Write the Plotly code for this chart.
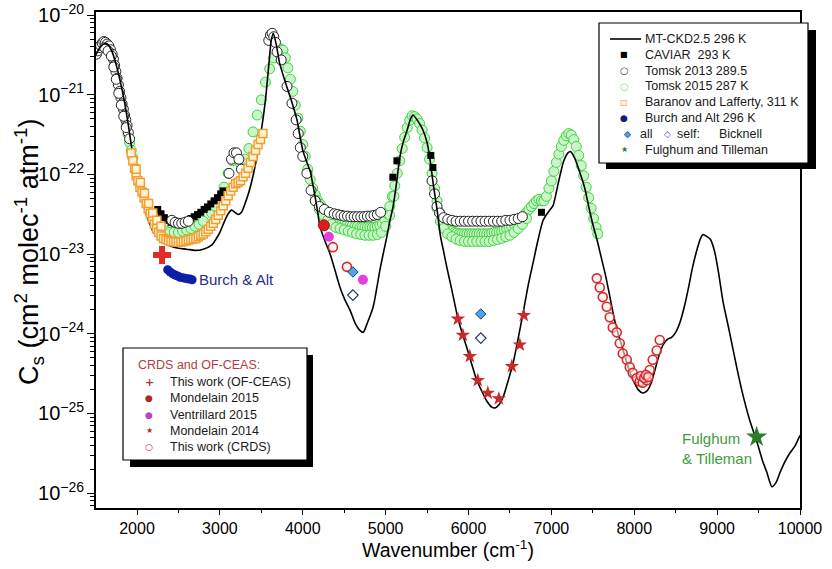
import plotly.graph_objects as go

# ---------------- data (wavenumber cm-1, Cs in cm2 molec-1 atm-1) ----------------
mtckd_wn = [1505,1550,1600,1650,1700,1750,1800,1850,1900,1950,2000,2050,2100,2150,2200,2300,2400,2500,2600,2700,
            2800,2900,2950,3000,3050,3100,3140,3180,3220,3260,3300,3350,3400,3450,3500,3550,3590,3620,3645,3680,
            3720,3800,3870,3930,4000,4050,4090,4130,4170,4210,4270,4330,4390,4450,4510,4570,4630,4690,4730,4780,
            4850,4930,4970,5015,5050,5090,5130,5170,5210,5260,5300,5330,5400,5450,5500,5530,5580,5620,5660,5700,
            5740,5800,5860,5920,5980,6040,6100,6160,6220,6280,6320,6370,6420,6480,6540,6600,6660,6720,6780,6840,
            6900,6960,7020,7060,7100,7150,7200,7230,7280,7330,7400,7450,7500,7550,7600,7650,7700,7750,7800,7850,
            7900,7950,8000,8050,8100,8150,8200,8250,8300,8350,8400,8450,8500,8550,8600,8650,8700,8750,8800,8830,
            8870,8920,8970,9020,9070,9150,9236,9300,9393,9480,9550,9600,9660,9710,9760,9820,9880,9940,10000]
mtckd_cs = [3.17e-21,3.89e-21,4.32e-21,4.21e-21,3.45e-21,2.34e-21,1.44e-21,8.0e-22,3.86e-22,1.73e-22,8.9e-23,5.3e-23,3.49e-23,2.43e-23,1.87e-23,1.44e-23,1.26e-23,1.18e-23,1.15e-23,1.11e-23,
            1.15e-23,1.29e-23,1.52e-23,1.87e-23,2.5e-23,3.2e-23,3.56e-23,3.34e-23,3.13e-23,3.34e-23,4.2e-23,6.0e-23,9.6e-23,1.73e-22,3.54e-22,8.6e-22,2.34e-21,4.8e-21,5.9e-21,4.27e-21,
            2.51e-21,1.33e-21,8.0e-22,4.83e-22,2.0e-22,1.41e-22,1.09e-22,6.7e-23,3.9e-23,2.16e-23,1.44e-23,1.0e-23,6.2e-24,3.8e-24,2.64e-24,1.98e-24,1.37e-24,1.1e-24,1.04e-24,1.37e-24,
            2.18e-24,6.25e-24,1.0e-23,1.65e-23,2.58e-23,3.95e-23,7.6e-23,1.61e-22,2.5e-22,3.6e-22,4.95e-22,5.55e-22,4.47e-22,3.6e-22,2.5e-22,1.68e-22,6.9e-23,3.63e-23,1.72e-23,1.07e-23,
            6.7e-24,3.5e-24,1.77e-24,1.04e-24,6.65e-25,4.1e-25,2.6e-25,1.9e-25,1.43e-25,1.2e-25,1.17e-25,1.29e-25,1.62e-25,2.6e-25,4.35e-25,8.8e-25,1.85e-24,4.05e-24,7.85e-24,1.52e-23,
            2.65e-23,3.34e-23,4.05e-23,6.0e-23,9.3e-23,1.48e-22,1.86e-22,1.93e-22,1.61e-22,1.16e-22,6.9e-23,3.95e-23,2.36e-23,1.52e-23,9.2e-24,5.6e-24,3.13e-24,1.7e-24,1.04e-24,7.1e-25,
            4.7e-25,3.22e-25,2.43e-25,1.97e-25,1.8e-25,1.9e-25,2.34e-25,3.5e-25,5.4e-25,7.3e-25,8.5e-25,9.0e-25,1.04e-24,1.37e-24,2.1e-24,3.58e-24,6.55e-24,1.07e-23,1.57e-23,1.76e-23,
            1.68e-23,1.52e-23,1.07e-23,5.6e-24,2.56e-24,1.04e-24,3.8e-25,1.9e-25,8.2e-26,4.4e-26,2.5e-26,1.82e-26,1.2e-26,1.35e-26,1.82e-26,2.5e-26,3.2e-26,3.9e-26,5.3e-26]

caviar_wn = [2250,2290,2330,2370,2410,2450,2490,2530,2570,2610,2650,2690,2730,2770,2810,2850,2890,2930,2970,3010,3040,
             4450,4550,4650,4750,4850,4950,5087,5136,5545,5570,6880]
caviar_cs = [3.63e-23,3.2e-23,2.86e-23,2.65e-23,2.5e-23,2.43e-23,2.43e-23,2.43e-23,2.5e-23,2.65e-23,2.79e-23,2.94e-23,3.13e-23,3.34e-23,3.63e-23,3.9e-23,4.25e-23,4.65e-23,5.1e-23,5.7e-23,6.2e-23,
             3.2e-23,3.06e-23,2.99e-23,2.99e-23,3.06e-23,3.34e-23,9.2e-23,1.48e-22,1.73e-22,1.22e-22,3.34e-23]

tomsk13_wn = [1510,1525,1540,1560,1580,1600,1620,1640,1660,1680,1700,1715,1730,1745,1760,1775,1790,1805,1820,1835,1850,1865,1880,1895,1910,
              1610,1650,1690,1720,1750,1780,1810,1840,1870,
              2420,2460,2500,2540,2580,2620,
              3110,3140,3170,3200,3230,3260,
              3590,3610,3630,3650,3670,3690,
              3740,3810,3870,3920,3945,3970,4000,4050,4100,4150,4200,4260,4320,4380,
              4420,4460,4500,4540,4580,4620,4660,4700,4740,4780,4820,4860,4900,4940,
              5560,5590,5620,5650,5700,5750,5800,5850,5900,5950,6000,6050,6100,6150,6200,6250,6300,6350,6400,6450,6500,6550,6600,6650]
tomsk13_cs = [3.23e-21,3.55e-21,3.89e-21,4.16e-21,4.43e-21,4.65e-21,4.54e-21,4.32e-21,4.1e-21,3.67e-21,3.23e-21,2.79e-21,2.34e-21,1.95e-21,1.61e-21,1.33e-21,1.1e-21,9.2e-22,7.7e-22,6.6e-22,5.55e-22,4.83e-22,4.1e-22,3.35e-22,2.8e-22,
              3.89e-21,3.55e-21,3.06e-21,2.23e-21,1.56e-21,1.04e-21,7.4e-22,5.36e-22,3.86e-22,
              2.65e-23,2.5e-23,2.43e-23,2.43e-23,2.5e-23,2.58e-23,
              1.03e-22,1.55e-22,1.86e-22,1.86e-22,1.55e-22,1.16e-22,
              4.8e-21,5.6e-21,5.9e-21,5.34e-21,4.54e-21,3.45e-21,
              2.73e-21,1.27e-21,7.8e-22,4.83e-22,3.25e-22,2.17e-22,1.68e-22,1.03e-22,6.3e-23,4.65e-23,3.95e-23,3.63e-23,3.34e-23,3.2e-23,
              3.13e-23,3.06e-23,2.99e-23,2.99e-23,2.94e-23,2.94e-23,2.94e-23,2.94e-23,2.94e-23,2.99e-23,2.99e-23,3.06e-23,3.13e-23,3.34e-23,
              8.3e-23,5.7e-23,3.95e-23,3.27e-23,2.86e-23,2.72e-23,2.65e-23,2.58e-23,2.58e-23,2.58e-23,2.58e-23,2.58e-23,2.58e-23,2.58e-23,2.58e-23,2.58e-23,2.58e-23,2.58e-23,2.58e-23,2.65e-23,2.65e-23,2.72e-23,2.79e-23,2.94e-23]

tomsk15_wn = [1870,1890,1910,1930,1950,
              2350,2400,2450,2500,2550,2600,2650,2700,2750,2800,
              2900,2950,3000,3050,3100,3150,3200,3250,3300,3350,3400,3450,3500,3550,3600,3650,3700,
              3730,3760,3790,3820,3850,3880,3910,3940,3970,4000,4030,4060,4090,4120,4150,4180,4210,4240,4270,4300,
              4330,4360,4390,4420,4450,4480,4510,4540,4570,4600,4630,4660,4690,4720,4750,4780,4810,4840,4870,4900,
              4930,4960,4990,5020,5050,5080,5110,5140,5170,5200,5230,5260,5290,5320,5350,5380,5410,5440,5470,5500,
              5530,5560,5590,5620,5650,5680,5710,5740,5770,5800,5830,5860,5890,5920,5950,5980,6010,6040,6070,6100,
              6130,6160,6190,6220,6250,6280,6310,6340,6370,6400,6430,6460,6490,6520,6550,6580,6610,6640,6670,6700,
              6730,6760,6790,6820,6850,6880,6910,6940,6970,7000,7030,7060,7090,7120,7150,7180,7210,7240,7270,7300,
              7330,7360,7390,7420,7450,7480,7510,7540,7560]
tomsk15_cs = [4.15e-22,3.25e-22,2.5e-22,2.0e-22,1.61e-22,
              1.94e-23,1.87e-23,1.87e-23,1.87e-23,1.94e-23,2.01e-23,2.09e-23,2.23e-23,2.36e-23,2.58e-23,
              3.27e-23,3.95e-23,5.0e-23,6.9e-23,1.03e-22,1.48e-22,1.61e-22,1.36e-22,1.55e-22,2.11e-22,3.41e-22,5.55e-22,8.6e-22,1.44e-21,2.11e-21,2.9e-21,3.55e-21,
              3.78e-21,3.61e-21,2.9e-21,2.17e-21,1.56e-21,1.1e-21,7.4e-22,5.07e-22,3.47e-22,2.37e-22,1.68e-22,1.16e-22,8.6e-23,6.7e-23,5.54e-23,4.7e-23,4.2e-23,3.75e-23,3.49e-23,3.2e-23,
              2.99e-23,2.86e-23,2.72e-23,2.65e-23,2.58e-23,2.5e-23,2.43e-23,2.36e-23,2.29e-23,2.29e-23,2.23e-23,2.23e-23,2.16e-23,2.16e-23,2.16e-23,2.16e-23,2.16e-23,2.16e-23,2.16e-23,2.23e-23,
              2.29e-23,2.43e-23,2.72e-23,3.2e-23,3.95e-23,5.3e-23,7.2e-23,1.03e-22,1.48e-22,2.11e-22,2.92e-22,3.86e-22,4.76e-22,5.43e-22,5.3e-22,4.95e-22,4.34e-22,3.6e-22,2.86e-22,2.17e-22,
              1.55e-22,1.03e-22,6.7e-23,4.65e-23,3.34e-23,2.72e-23,2.36e-23,2.16e-23,2.01e-23,1.94e-23,1.87e-23,1.83e-23,1.79e-23,1.79e-23,1.79e-23,1.79e-23,1.79e-23,1.79e-23,1.79e-23,1.79e-23,
              1.79e-23,1.79e-23,1.79e-23,1.79e-23,1.79e-23,1.83e-23,1.87e-23,1.87e-23,1.9e-23,1.94e-23,2.01e-23,2.09e-23,2.16e-23,2.23e-23,2.36e-23,2.5e-23,2.65e-23,2.86e-23,3.06e-23,3.34e-23,
              3.63e-23,3.95e-23,4.3e-23,4.65e-23,4.85e-23,4.65e-23,4.65e-23,5.3e-23,6.7e-23,8.3e-23,1.09e-22,1.41e-22,1.8e-22,2.24e-22,2.67e-22,3.05e-22,3.25e-22,3.12e-22,2.73e-22,2.24e-22,
              1.73e-22,1.29e-22,9.6e-23,6.9e-23,5.1e-23,3.75e-23,2.79e-23,2.16e-23,1.79e-23]
tomsk15b_wn = [4150,4200,4250,4300,4350,4400,4450,4500,4550,4600,4650,4700,4750,4800,4850,4900,4950,5000,5050,5100,
               5620,5660,5700,5750,5800,5850,5900,5950,6000,6050,6100,6150,6200,6250,6300,6350,6400,6450,6500,6550,6600,6650,6700]
tomsk15b_cs = [4.7e-23,3.63e-23,3.06e-23,2.65e-23,2.36e-23,2.16e-23,2.09e-23,2.01e-23,1.94e-23,1.87e-23,1.79e-23,1.76e-23,1.72e-23,1.72e-23,1.72e-23,1.76e-23,1.87e-23,2.23e-23,3.06e-23,5.3e-23,
               3.75e-23,2.58e-23,2.09e-23,1.79e-23,1.65e-23,1.54e-23,1.48e-23,1.44e-23,1.44e-23,1.44e-23,1.44e-23,1.44e-23,1.44e-23,1.44e-23,1.48e-23,1.52e-23,1.57e-23,1.65e-23,1.72e-23,1.87e-23,2.09e-23,2.36e-23,2.79e-23]

baranov_wn = [1930,1950,1970,1990,2010,2035,2060,2085,2110,2135,2160,2185,2210,2235,2260,2290,2320,2350,2380,2410,2440,2470,2500,2530,
              2560,2590,2620,2650,2680,2710,2740,2770,2800,2830,2860,2890,2920,2950,2980,3010,3040,3070,3100,3130,3160,3190,3220,3250,
              3280,3310,3340,3370,3400,3430,3460,3490,3520,
              1990,2040,2090,2140,2190,2240,2290]
baranov_cs = [1.86e-22,1.48e-22,1.19e-22,9.6e-23,8.3e-23,6.9e-23,6.0e-23,5.1e-23,4.3e-23,3.7e-23,3.2e-23,2.79e-23,2.36e-23,2.09e-23,1.87e-23,1.68e-23,1.57e-23,1.52e-23,1.48e-23,1.44e-23,1.43e-23,1.42e-23,1.41e-23,1.42e-23,
              1.44e-23,1.46e-23,1.5e-23,1.52e-23,1.54e-23,1.57e-23,1.65e-23,1.72e-23,1.79e-23,1.9e-23,2.05e-23,2.23e-23,2.43e-23,2.72e-23,3.06e-23,3.49e-23,4.05e-23,4.65e-23,5.4e-23,6.2e-23,6.9e-23,7.6e-23,7.9e-23,8.3e-23,
              9.3e-23,1.03e-22,1.19e-22,1.41e-22,1.68e-22,2.0e-22,2.37e-22,2.73e-22,3.25e-22,
              1.16e-22,7.9e-23,5.8e-23,4.3e-23,3.27e-23,2.65e-23,2.23e-23]

burch_wn = [2370,2400,2430,2460,2490,2520,2550,2580,2610,2640,2665]
burch_cs = [6.35e-24,5.95e-24,5.65e-24,5.45e-24,5.3e-24,5.1e-24,5.05e-24,4.95e-24,4.9e-24,4.85e-24,4.75e-24]

ofceas_wn = [2302]
ofceas_cs = [9.7e-24]

mond15_wn = [4255]
mond15_cs = [2.29e-23]

ventr_wn = [4315, 4726]
ventr_cs = [1.65e-23, 4.75e-24]

crds_wn = [4364, 4533,
           7548,7584,7620,7668,7704,7741,7789,7825,7861,7910,7946,7982,8030,8066,8102,8150,8187,8223,8271,8307,
           8080,8120,8140,8170]
crds_cs = [1.22e-23, 6.9e-24,
           4.95e-24,3.8e-24,2.88e-24,2.18e-24,1.61e-24,1.2e-24,1.04e-24,7.6e-25,5.65e-25,4.7e-25,3.8e-25,3.22e-25,2.77e-25,2.52e-25,2.43e-25,2.6e-25,3.5e-25,4.7e-25,6.15e-25,8.35e-25,
           2.95e-25,2.77e-25,3.04e-25,2.86e-25]

mond14_wn = [5871,5932,6016,6112,6233,6366,6523,6619,6667]
mond14_cs = [1.53e-24,9.6e-25,5.2e-25,2.6e-25,1.8e-25,1.53e-25,3.9e-25,7.25e-25,1.7e-24]

bick_all_wn = [4605, 6148]
bick_all_cs = [5.95e-24, 1.77e-24]
bick_self_wn = [4605, 6148]
bick_self_cs = [3.05e-24, 8.8e-25]

fulghum_wn = [9477]
fulghum_cs = [5.07e-26]

# ---------------- figure ----------------
fig = go.Figure()

green_marker = dict(symbol="circle", size=10, color="#c9f5c9", line=dict(color="#3fd23f", width=1))
fig.add_trace(go.Scatter(x=tomsk15_wn, y=tomsk15_cs, mode="markers", marker=green_marker))
fig.add_trace(go.Scatter(x=tomsk15b_wn, y=tomsk15b_cs, mode="markers", marker=green_marker))
fig.add_trace(go.Scatter(x=caviar_wn, y=caviar_cs, mode="markers",
                         marker=dict(symbol="square", size=7, color="black")))
fig.add_trace(go.Scatter(x=tomsk13_wn, y=tomsk13_cs, mode="markers",
                         marker=dict(symbol="circle", size=10, color="white",
                                     line=dict(color="#222222", width=1))))
fig.add_trace(go.Scatter(x=mtckd_wn, y=mtckd_cs, mode="lines",
                         line=dict(color="black", width=1.6, shape="spline", smoothing=0.6)))
fig.add_trace(go.Scatter(x=baranov_wn, y=baranov_cs, mode="markers",
                         marker=dict(symbol="square", size=8, color="#fff3d6",
                                     line=dict(color="#f0a033", width=1.5))))
fig.add_trace(go.Scatter(x=burch_wn, y=burch_cs, mode="markers",
                         marker=dict(symbol="circle", size=9, color="#0d1fa8")))
fig.add_trace(go.Scatter(x=ofceas_wn, y=ofceas_cs, mode="markers",
                         marker=dict(symbol="cross", size=15, color="#e02b2b")))
fig.add_trace(go.Scatter(x=mond15_wn, y=mond15_cs, mode="markers",
                         marker=dict(symbol="circle", size=11, color="#d81e1e",
                                     line=dict(color="#b01010", width=1))))
fig.add_trace(go.Scatter(x=ventr_wn, y=ventr_cs, mode="markers",
                         marker=dict(symbol="circle", size=10, color="#e23ee2")))
fig.add_trace(go.Scatter(x=crds_wn, y=crds_cs, mode="markers",
                         marker=dict(symbol="circle", size=9, color="rgba(255,235,235,0.6)",
                                     line=dict(color="#d42a2a", width=1.6))))
fig.add_trace(go.Scatter(x=mond14_wn, y=mond14_cs, mode="markers",
                         marker=dict(symbol="star", size=11, color="#c62b2b")))
fig.add_trace(go.Scatter(x=bick_all_wn, y=bick_all_cs, mode="markers",
                         marker=dict(symbol="diamond", size=8, color="#4aa6e4",
                                     line=dict(color="#1b3f8f", width=1))))
fig.add_trace(go.Scatter(x=bick_self_wn, y=bick_self_cs, mode="markers",
                         marker=dict(symbol="diamond-open", size=8, color="#22327a",
                                     line=dict(width=1.2))))
fig.add_trace(go.Scatter(x=fulghum_wn, y=fulghum_cs, mode="markers",
                         marker=dict(symbol="star", size=16, color="#2b7d2b")))

FONT = "Liberation Sans, Arial, sans-serif"
GLYPH = "DejaVu Sans, sans-serif"

# page pixel -> paper coordinates (plot area spans x 96..800, y 12..508)
def px2x(px):
    return (px - 96) / 704.0

def py2y(py):
    return (508 - py) / 496.0

shapes = []
# legend 1 (top right)
shapes.append(dict(type="rect", xref="paper", yref="paper", layer="above",
                   x0=px2x(606), x1=px2x(816), y0=py2y(169), y1=py2y(30),
                   fillcolor="black", line=dict(width=0)))
shapes.append(dict(type="rect", xref="paper", yref="paper", layer="above",
                   x0=px2x(599), x1=px2x(808), y0=py2y(163), y1=py2y(23),
                   fillcolor="white", line=dict(color="black", width=1.2)))
shapes.append(dict(type="line", xref="paper", yref="paper", layer="above",
                   x0=px2x(610), x1=px2x(641), y0=py2y(39), y1=py2y(39),
                   line=dict(color="black", width=1.6)))
# legend 2 (bottom left)
shapes.append(dict(type="rect", xref="paper", yref="paper", layer="above",
                   x0=px2x(130), x1=px2x(313), y0=py2y(467), y1=py2y(355),
                   fillcolor="black", line=dict(width=0)))
shapes.append(dict(type="rect", xref="paper", yref="paper", layer="above",
                   x0=px2x(123), x1=px2x(307), y0=py2y(460), y1=py2y(348),
                   fillcolor="white", line=dict(color="black", width=1.2)))

ann = []
def txt(px, py, s, color="#1a1a1a", size=12.5, family=FONT, anchor="left"):
    ann.append(dict(xref="paper", yref="paper", x=px2x(px), y=py2y(py), text=s,
                    showarrow=False, xanchor=anchor, yanchor="middle",
                    font=dict(family=family, size=size, color=color)))

rows1 = [39, 54.8, 70.6, 86.4, 102.2, 118, 133.8, 149.6]
labels1 = ["MT-CKD2.5 296 K", "CAVIAR  293 K", "Tomsk 2013 289.5", "Tomsk 2015 287 K",
           "Baranov and Lafferty, 311 K", "Burch and Alt 296 K", None, "Fulghum and Tilleman"]
for r, lab in zip(rows1, labels1):
    if lab:
        txt(643, r, lab)
gx = 624
txt(gx, rows1[1], "■", "black", 8, GLYPH, "center")
txt(gx, rows1[2], "○", "#444444", 10, GLYPH, "center")
txt(gx, rows1[3], "○", "#86e086", 10, GLYPH, "center")
txt(gx, rows1[4], "■", "#fff0d0", 8, GLYPH, "center")
txt(gx, rows1[4], "□", "#e0a050", 8, GLYPH, "center")
txt(gx, rows1[5], "●", "#141c7a", 9, GLYPH, "center")
txt(627, rows1[6], "◆", "#4aa6e4", 9, GLYPH, "center")
txt(627, rows1[6], "◇", "#1b3f8f", 9, GLYPH, "center")
txt(638, rows1[6], "all")
txt(667, rows1[6], "◇", "#3a3f8a", 9, GLYPH, "center")
txt(675, rows1[6], "self:")
txt(717, rows1[6], "Bicknell")
txt(gx, rows1[7], "★", "#2b7d2b", 8, GLYPH, "center")

rows2 = [382, 398.3, 414.6, 430.9, 447.2]
txt(136, 365, "CRDS and OF-CEAS:", "#b04040")
labels2 = ["This work (OF-CEAS)", "Mondelain 2015", "Ventrillard 2015", "Mondelain 2014", "This work (CRDS)"]
for r, lab in zip(rows2, labels2):
    txt(168, r, lab)
txt(149, rows2[0], "<b>+</b>", "#a83232", 11, GLYPH, "center")
txt(149, rows2[1], "●", "#b02525", 9, GLYPH, "center")
txt(149, rows2[2], "●", "#c040c0", 9, GLYPH, "center")
txt(149, rows2[3], "★", "#a83232", 8, GLYPH, "center")
txt(149, rows2[4], "○", "#a83232", 9, GLYPH, "center")

# y-axis title
ann.append(dict(xref="paper", yref="paper", x=px2x(29), y=py2y(252), textangle=-90,
                text="C<sub>s</sub> (cm<sup>2</sup> molec<sup>-1</sup> atm<sup>-1</sup>)",
                showarrow=False, xanchor="center", yanchor="middle",
                font=dict(family=FONT, size=27, color="black")))

# in-plot labels (data coordinates; log axis uses log10 units)
ann.append(dict(xref="x", yref="y", x=2724, y=-23.324, text="Burch & Alt", showarrow=False,
                xanchor="left", yanchor="middle", font=dict(family=FONT, size=15, color="#2b2d8e")))
ann.append(dict(xref="x", yref="y", x=8549, y=-25.436, text="Fulghum<br>& Tilleman", showarrow=False,
                xanchor="left", yanchor="middle", align="left",
                font=dict(family=FONT, size=15, color="#3c9c3c")))

fig.update_layout(
    width=832, height=569,
    margin=dict(l=96, r=32, t=12, b=61, autoexpand=False),
    paper_bgcolor="white", plot_bgcolor="white",
    showlegend=False,
    shapes=shapes, annotations=ann,
    font=dict(family=FONT, color="black"),
)
fig.update_xaxes(range=[1505, 10000], tickmode="linear", tick0=0, dtick=1000, tickformat="d",
                 showline=True, linecolor="black", linewidth=1.5, mirror=True,
                 ticks="outside", ticklen=5, tickwidth=1.3, tickcolor="black",
                 minor=dict(ticks="outside", ticklen=3, dtick=500, tickcolor="black", tickwidth=1.2, showgrid=False),
                 showgrid=False, zeroline=False,
                 tickfont=dict(family=FONT, size=16, color="black"),
                 title=dict(text="Wavenumber (cm<sup>-1</sup>)", font=dict(family=FONT, size=19.5, color="black"),
                            standoff=4))
fig.update_yaxes(type="log", range=[-26.188, -19.962], dtick=1, exponentformat="power",
                 showline=True, linecolor="black", linewidth=1.5, mirror=True,
                 ticks="outside", ticklen=7, tickwidth=1.3, tickcolor="black",
                 ticklabeloverflow="allow",
                 minor=dict(ticks="outside", ticklen=4, dtick="D1", tickcolor="black", tickwidth=1, showgrid=False),
                 showgrid=False, zeroline=False,
                 tickfont=dict(family=FONT, size=16, color="black"))

# remove the default 8 px page margin so the figure sits at the window origin; hide the mode bar
fig.write_html("out.html", config={"displayModeBar": False},
               post_script="document.body.style.margin='0px';")
